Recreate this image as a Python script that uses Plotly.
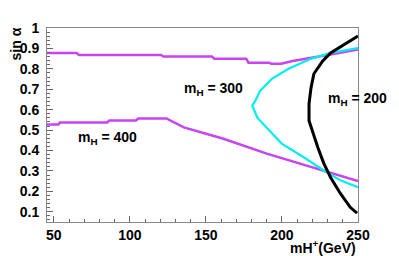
import plotly.graph_objects as go

# m_H = 400 (magenta), upper branch
mh400_up_x = [45.5, 65, 66.5, 120.5, 122, 154, 155.5, 176.5, 178, 191.5, 193, 199.5, 207, 219, 232, 250]
mh400_up_y = [0.877, 0.877, 0.868, 0.868, 0.860, 0.860, 0.850, 0.850, 0.830, 0.830, 0.825, 0.825, 0.838, 0.852, 0.870, 0.895]
# m_H = 400 (magenta), lower branch
mh400_lo_x = [45.5, 53, 54, 85, 86.5, 104, 105.5, 124, 135.5, 161, 190, 232, 250]
mh400_lo_y = [0.527, 0.527, 0.537, 0.537, 0.547, 0.547, 0.557, 0.557, 0.513, 0.459, 0.385, 0.288, 0.250]
# m_H = 300 (cyan)
mh300_x = [250, 232, 219, 204.3, 193.4, 185.7, 182.5, 180.5, 183.8, 191.5, 199.8, 214.6, 227.5, 238.4, 250]
mh300_y = [0.902, 0.878, 0.849, 0.800, 0.751, 0.693, 0.644, 0.620, 0.561, 0.498, 0.434, 0.366, 0.302, 0.254, 0.220]
# m_H = 200 (black)
mh200_x = [250, 232, 226.8, 221, 219.1, 217.8, 217.8, 220.4, 223.6, 227.5, 232, 238.4, 244.9, 249.4]
mh200_y = [0.961, 0.878, 0.839, 0.776, 0.707, 0.629, 0.546, 0.483, 0.415, 0.337, 0.268, 0.190, 0.122, 0.093]

labels = ["m<sub>H</sub> = 400", "m<sub>H</sub> = 300", "m<sub>H</sub> = 200"]
label_x = [85, 154.8, 249.7]
label_y = [0.459, 0.702, 0.654]

MAG = "#c844f0"
CYA = "#00eef0"
FONT = "Liberation Sans"
FS = 14

fig = go.Figure()
fig.add_trace(go.Scatter(x=mh400_up_x, y=mh400_up_y, mode="lines",
                         line=dict(color=MAG, width=2.5), showlegend=False))
fig.add_trace(go.Scatter(x=mh400_lo_x, y=mh400_lo_y, mode="lines",
                         line=dict(color=MAG, width=2.5), showlegend=False))
fig.add_trace(go.Scatter(x=mh300_x, y=mh300_y, mode="lines",
                         line=dict(color=CYA, width=2.2), showlegend=False))
fig.add_trace(go.Scatter(x=mh200_x, y=mh200_y, mode="lines",
                         line=dict(color="black", width=3), showlegend=False))

for t, x, y in zip(labels, label_x, label_y):
    fig.add_annotation(x=x, y=y, xref="x", yref="y", text=t, showarrow=False,
                       font=dict(family=FONT, size=FS, color="black", weight="bold"),
                       xanchor="center", yanchor="middle")

fig.add_annotation(x=1.0, y=-0.185, xref="paper", yref="paper", text="mH<sup>+</sup>(GeV)",
                   showarrow=False, xanchor="right", yanchor="bottom",
                   font=dict(family=FONT, size=FS, color="black", weight="bold"))
fig.add_annotation(x=-0.1, y=1.015, xref="paper", yref="paper", text="sin α",
                   showarrow=False, xanchor="center", yanchor="top", textangle=-90,
                   font=dict(family=FONT, size=FS, color="black", weight="bold"))

fig.update_xaxes(range=[45.5, 250], tickvals=[50, 100, 150, 200, 250],
                 ticks="inside", ticklen=6, tickcolor="#666", tickwidth=1,
                 minor=dict(dtick=10, tick0=0, ticks="inside", ticklen=3, tickcolor="#666"),
                 showline=True, linecolor="#888", linewidth=1, mirror=True,
                 showgrid=False, zeroline=False,
                 tickfont=dict(family=FONT, size=FS, color="black", weight="bold"))
fig.update_yaxes(range=[0.05, 1.0], tickvals=[0.1, 0.2, 0.3, 0.4, 0.5, 0.6, 0.7, 0.8, 0.9, 1.0],
                 ticktext=["0.1", "0.2", "0.3", "0.4", "0.5", "0.6", "0.7", "0.8", "0.9", "1"],
                 ticks="inside", ticklen=6, tickcolor="#666", tickwidth=1,
                 ticklabelstandoff=4,
                 minor=dict(dtick=0.02, tick0=0, ticks="inside", ticklen=3, tickcolor="#666"),
                 showline=True, linecolor="#888", linewidth=1, mirror=True,
                 showgrid=False, zeroline=False,
                 tickfont=dict(family=FONT, size=FS, color="black", weight="bold"))

fig.update_layout(width=391, height=248, margin=dict(l=32, r=41, t=17, b=34),
                  paper_bgcolor="white", plot_bgcolor="white")
fig.write_html("out.html")
